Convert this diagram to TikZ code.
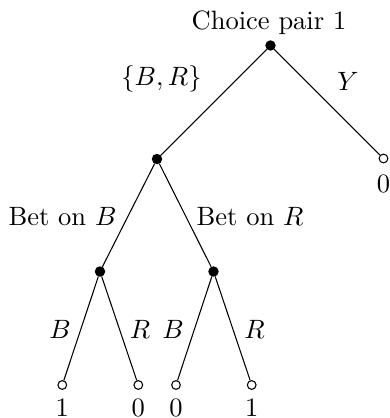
\documentclass[tikz,border=0pt]{standalone}
\begin{document}
\begin{tikzpicture}[x=0.37736pt,y=-0.37736pt,
  decnode/.style={circle,fill=black,draw=black,line width=0.4pt,inner sep=0pt,minimum size=3.5pt},
  termnode/.style={circle,fill=white,draw=black,line width=0.4pt,inner sep=0pt,minimum size=3.3pt},
  lbl/.style={inner sep=0pt,anchor=base},
  branch/.style={line width=0.4pt}]
\useasboundingbox (0,0) rectangle (389,418);
% nodes
\node[decnode] (r) at (270.5,45.5) {};
\node[decnode] (m) at (157,159) {};
\node[termnode] (y) at (383.5,158.5) {};
\node[decnode] (a) at (100,271.5) {};
\node[decnode] (b) at (213.5,271.5) {};
\node[termnode] (l1) at (62.3,385) {};
\node[termnode] (l2) at (138.3,385) {};
\node[termnode] (l3) at (176,385) {};
\node[termnode] (l4) at (251.7,385) {};
% edges
\draw[branch] (r) -- (m);
\draw[branch] (r) -- (y);
\draw[branch] (m) -- (a);
\draw[branch] (m) -- (b);
\draw[branch] (a) -- (l1);
\draw[branch] (a) -- (l2);
\draw[branch] (b) -- (l3);
\draw[branch] (b) -- (l4);
% labels
\node[lbl] (t) at (269,29.5) {Choice pair 1};
\node[lbl] (lbr) at (161.5,85.5) {$\{B,R\}$};
\node[lbl] (ly) at (348,90.5) {$Y$};
\node[lbl] (lbb) at (62.5,225) {Bet on $B$};
\node[lbl] (lbrr) at (250,225) {Bet on $R$};
\node[lbl] (e1) at (60,338) {$B$};
\node[lbl] (e2) at (140,338) {$R$};
\node[lbl] (e3) at (173,338) {$B$};
\node[lbl] (e4) at (254.5,338) {$R$};
\node[lbl] (p0) at (383.5,192.5) {0};
\node[lbl] (p1) at (62.3,416.3) {1};
\node[lbl] (p2) at (138.3,416.3) {0};
\node[lbl] (p3) at (176,416.3) {0};
\node[lbl] (p4) at (251.7,416.3) {1};
\end{tikzpicture}
\end{document}
